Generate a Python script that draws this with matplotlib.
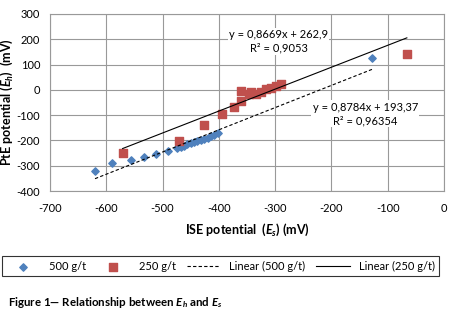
import matplotlib.pyplot as plt
import numpy as np

plt.rcParams['font.family'] = ['Lato', 'DejaVu Sans']
plt.rcParams['axes.unicode_minus'] = False
plt.rcParams['mathtext.fontset'] = 'custom'
plt.rcParams['mathtext.it'] = 'Lato:italic:bold'
plt.rcParams['mathtext.rm'] = 'Lato:bold'

# 500 g/t series
es_500 = [-620, -590, -556, -533, -512, -490, -475, -468, -462, -456, -450, -444,
          -438, -432, -426, -420, -414, -408, -402, -128]
eh_500 = [-320, -291, -278, -264, -252, -243, -231, -226, -221, -216, -211, -207,
          -202, -198, -194, -190, -184, -177, -170, 125]

# 250 g/t series
es_250 = [-571, -470, -427, -394, -373, -361, -360, -346, -343, -334, -325, -316,
          -307, -298, -289, -66]
eh_250 = [-250, -202, -138, -96, -67, -46, -4, -17, -7, -15, -7, 3, 9, 17, 22, 141]

# trendlines (slope, intercept) as given by the chart
fit_500 = (0.8784, 193.37)
fit_250 = (0.8669, 262.9)
eq_500 = "y = 0,8784x + 193,37\nR² = 0,96354"
eq_250 = "y = 0,8669x + 262,9\nR² = 0,9053"

blue = '#4F81BD'
red = '#C0504D'

fig = plt.figure(figsize=(4.62, 3.09), dpi=100)
ax = fig.add_axes([50/462, 1-191/309, 394/462, 177/309])

ax.scatter(es_500, eh_500, marker='D', s=14, color=blue, zorder=3, label='500 g/t')
ax.scatter(es_250, eh_250, marker='s', s=30, color=red, zorder=3, label='250 g/t')

x5 = np.array([min(es_500), max(es_500)])
ax.plot(x5, fit_500[0]*x5 + fit_500[1], 'k--', lw=0.8, dashes=(3, 2), zorder=4,
        label='Linear (500 g/t)')
x2 = np.array([min(es_250), max(es_250)])
ax.plot(x2, fit_250[0]*x2 + fit_250[1], 'k-', lw=0.8, zorder=4,
        label='Linear (250 g/t)')

ax.text(-294, 193, eq_250, ha='center', va='center', fontsize=8, linespacing=1.25,
        bbox=dict(facecolor='white', edgecolor='none', pad=1), zorder=5)
ax.text(-140, -95, eq_500, ha='center', va='center', fontsize=8, linespacing=1.25,
        bbox=dict(facecolor='white', edgecolor='none', pad=1), zorder=5)

ax.set_xlim(-700, 0)
ax.set_ylim(-400, 300)
ax.set_xticks(np.arange(-700, 1, 100))
ax.set_yticks(np.arange(-400, 301, 100))
ax.grid(color='#999999', lw=0.8)
ax.set_axisbelow(True)
for s in ax.spines.values():
    s.set_color('#999999')
ax.tick_params(length=0, labelsize=8)
ax.tick_params(axis='y', pad=7)
ax.tick_params(axis='x', pad=9)

ax.set_xlabel('ISE potential  ($\\it{E}_{s}$) (mV)', fontsize=9, fontweight='bold', labelpad=5)
ax.set_ylabel('PtE potential ($\\it{E}_{h}$)  (mV)', fontsize=9, fontweight='bold')
ax.yaxis.set_label_coords(-(50 - 15) / 394, 0.5)

leg = fig.legend(loc='lower left', bbox_to_anchor=(2/462, 1-276/309, 437/462, 25/309),
                 mode='expand', ncol=4, fontsize=8, frameon=True, fancybox=False,
                 handlelength=3, borderaxespad=0, handletextpad=0.8)
leg.get_frame().set_edgecolor('black')
leg.get_frame().set_linewidth(0.8)

fig.text(8/462, 1-303/309, 'Figure 1\u2014 Relationship between $\\it{E}_{h}$ and $\\it{E}_{s}$',
         fontsize=8.3, fontweight='bold', va='center')

fig.savefig('out.png', dpi=100)
